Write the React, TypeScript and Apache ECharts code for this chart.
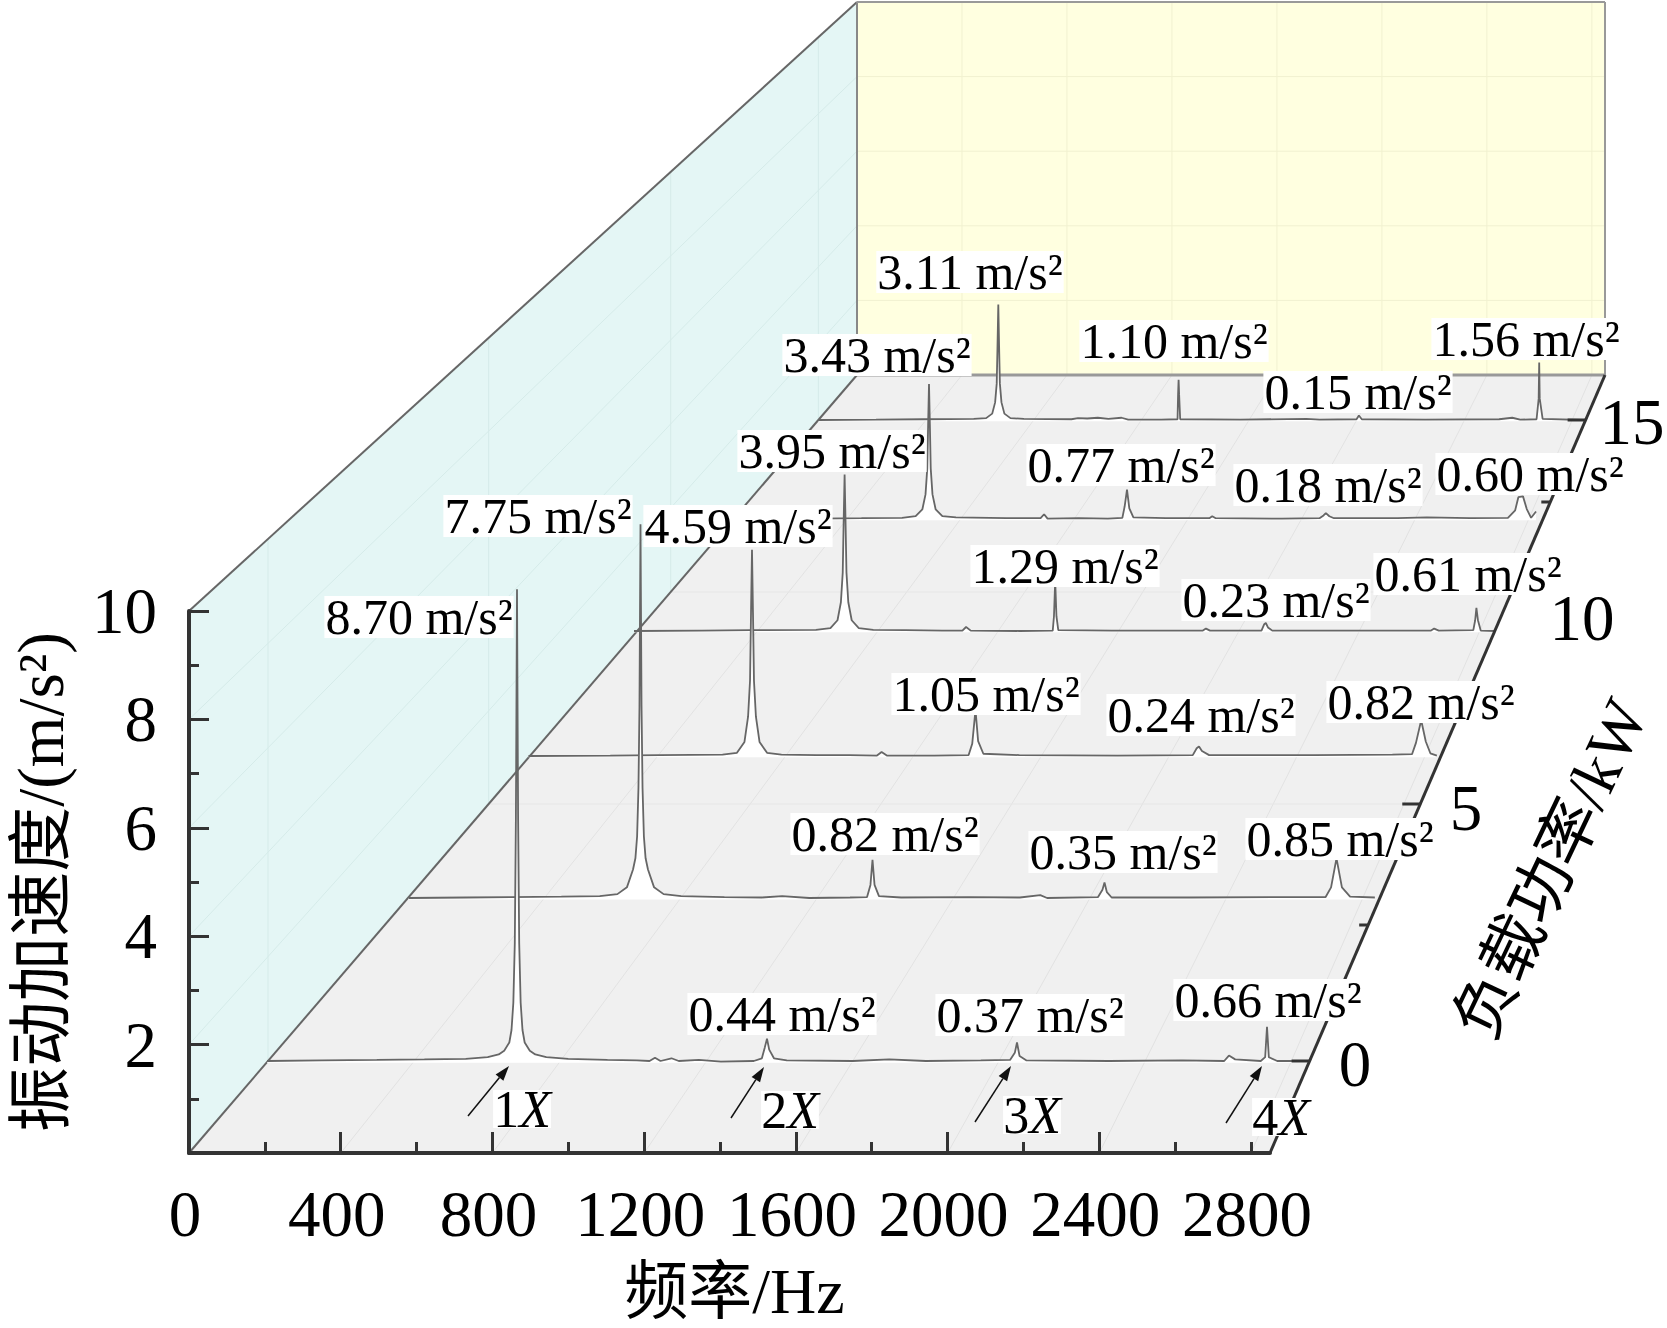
import React, { useEffect, useRef } from "react";
import * as echarts from "echarts";

const FONT = '"Liberation Serif", "Noto Sans CJK SC", serif';

// ---------- data ----------
const loads = [0, 3, 6, 9, 12, 15];
const harmonicLabels = ["1", "2", "3", "4"];
const freqTicks = [0, 400, 800, 1200, 1600, 2000, 2400, 2800];
const loadTicks = ["0", "5", "10", "15"];

const peaks0 = [8.7, 0.44, 0.37, 0.66];
const peaks3 = [7.75, 0.82, 0.35, 0.85];
const peaks6 = [4.59, 1.05, 0.24, 0.82];
const peaks9 = [3.95, 1.29, 0.23, 0.61];
const peaks12 = [3.43, 0.77, 0.18, 0.6];
const peaks15 = [3.11, 1.1, 0.15, 1.56];

const spectrum0 = [[0,.03],[150,.04],[300,.05],[430,.06],[543,.07],[603,.1],[633,.15],[648,.22],[662,.37],[668,.6],[673,1.1],[677,2.2],[680,4.5],[683,8.7],[686,4.5],[689,2.2],[693,1.1],[698,.6],[704,.37],[718,.22],[733,.15],[763,.1],[823,.07],[930,.05],[1010,.04],[1045,.03],[1060,.09],[1075,.03],[1105,.08],[1125,.03],[1180,.05],[1240,.02],[1330,.03],[1352,.08],[1360,.28],[1366,.44],[1372,.24],[1385,.08],[1420,.04],[1600,.03],[1700,.06],[1800,.03],[1950,.04],[2030,.05],[2043,.18],[2049,.37],[2056,.12],[2075,.04],[2300,.03],[2500,.04],[2615,.03],[2628,.13],[2645,.06],[2715,.03],[2727,.1],[2732,.66],[2737,.1],[2760,.03],[2844,.03]];
const spectrum3 = [[0,.03],[170,.04],[300,.05],[450,.06],[563,.07],[615,.11],[643,.25],[661,.62],[668,.85],[673,1.3],[677,2.3],[680,4],[683,7.75],[686,4],[689,2.3],[693,1.3],[698,.85],[705,.62],[723,.25],[751,.11],[803,.07],[930,.05],[1040,.04],[1100,.07],[1180,.03],[1300,.04],[1350,.05],[1360,.3],[1366,.82],[1372,.3],[1385,.07],[1450,.04],[1650,.05],[1800,.04],[1860,.09],[1880,.03],[2030,.05],[2043,.2],[2049,.35],[2056,.15],[2070,.04],[2300,.04],[2550,.05],[2700,.05],[2716,.25],[2732,.85],[2748,.25],[2772,.06],[2845,.04]];
const spectrum6 = [[0,.03],[250,.04],[400,.05],[593,.06],[637,.1],[660,.34],[671,.9],[677,1.7],[680,3.2],[683,4.59],[686,3.2],[689,1.7],[695,.9],[706,.34],[729,.1],[773,.06],[880,.05],[980,.05],[1065,.04],[1079,.12],[1095,.04],[1240,.04],[1345,.05],[1356,.3],[1366,1.05],[1374,.36],[1390,.08],[1500,.05],[1800,.04],[2030,.05],[2042,.2],[2049,.24],[2058,.14],[2080,.05],[2400,.05],[2640,.06],[2700,.07],[2712,.32],[2728,.82],[2742,.35],[2756,.09],[2776,.04]];
const spectrum9 = [[0,.03],[220,.04],[380,.05],[590,.06],[637,.1],[660,.3],[671,.75],[677,1.5],[680,2.8],[683,3.95],[686,2.8],[689,1.5],[695,.75],[706,.3],[729,.1],[776,.06],[880,.05],[1000,.04],[1065,.04],[1077,.13],[1092,.04],[1250,.03],[1358,.04],[1362,.4],[1366,1.29],[1370,.4],[1376,.05],[1550,.04],[1845,.04],[1855,.09],[1868,.04],[2035,.04],[2044,.2],[2049,.23],[2056,.12],[2070,.04],[2400,.04],[2585,.04],[2595,.09],[2610,.04],[2722,.05],[2728,.3],[2732,.61],[2737,.3],[2746,.04],[2792,.03]];
const spectrum12 = [[0,.03],[300,.04],[450,.05],[590,.06],[637,.1],[660,.27],[671,.65],[677,1.3],[680,2.4],[683,3.43],[686,2.4],[689,1.3],[695,.65],[706,.27],[729,.1],[776,.07],[950,.05],[1068,.05],[1080,.15],[1092,.04],[1200,.05],[1300,.04],[1350,.06],[1358,.35],[1366,.77],[1374,.3],[1388,.07],[1500,.05],[1650,.05],[1660,.1],[1672,.05],[1900,.04],[2030,.05],[2044,.12],[2052,.18],[2064,.1],[2080,.05],[2300,.05],[2400,.07],[2550,.05],[2680,.06],[2705,.25],[2716,.58],[2732,.6],[2745,.28],[2760,.06],[2777,.22]];
const spectrum15 = [[0,.03],[220,.04],[400,.05],[590,.06],[637,.08],[660,.2],[671,.5],[677,1],[680,2],[683,3.11],[686,2],[689,1],[695,.5],[706,.2],[729,.08],[780,.06],[960,.05],[985,.08],[1020,.07],[1060,.09],[1100,.06],[1150,.09],[1175,.04],[1300,.04],[1362,.05],[1364,.7],[1366,1.1],[1368,.7],[1372,.05],[1600,.04],[1850,.06],[1900,.04],[2040,.05],[2049,.15],[2060,.05],[2300,.04],[2580,.05],[2630,.09],[2660,.04],[2722,.05],[2730,.6],[2732,1.56],[2734,.6],[2745,.06],[2898,.03]];

const spectra = [spectrum0, spectrum3, spectrum6, spectrum9, spectrum12, spectrum15];
const peakTables = [peaks0, peaks3, peaks6, peaks9, peaks12, peaks15];

// ---------- layout of the picture (pixels) ----------
const W = 1667, H = 1328;
const O = { x: 189, y: 1153 };      // front-left floor corner
const FR = { x: 1270, y: 1153 };    // front-right floor corner
const BL = { x: 857, y: 375 };      // back-left floor corner
const BR = { x: 1605, y: 375 };     // back-right floor corner
const TF = { x: 189, y: 611 };      // top of the front of the left wall
const TB = { x: 857, y: 2 };        // top of back wall
const TR = { x: 1605, y: 2 };

const rowBase = [1061, 898, 756, 631, 519, 420];
const rowLeft = [267, 408.5, 528.5, 634, 731, 818];
const rowPxPer683Hz = [250, 232, 223.5, 210.6, 198, 180.3];
const rowPxPerUnit = [54.4, 48.4, 45.2, 39.9, 39.7, 37.5];

const labelCenters = [
  [[419, 617], [782, 1014], [1030, 1015], [1268, 1000]],
  [[538, 516], [885, 834], [1123, 852], [1340, 839]],
  [[738, 526], [986, 694], [1201, 715], [1421, 702]],
  [[832, 451], [1065, 566], [1276, 600], [1468, 574]],
  [[877, 355], [1121, 465], [1328, 485], [1530, 474]],
  [[970, 272], [1174, 341], [1358, 392], [1526, 339]],
];
const harmonicCenters = [[522, 1109], [790, 1110], [1032, 1115], [1281, 1117]];
const arrows = [
  [468, 1116, 509, 1066],
  [731, 1118, 764, 1067],
  [975, 1122, 1011, 1066],
  [1226, 1123, 1262, 1066],
];
const loadTickY = [1061, 925, 804, 695, 592, 502, 420];
const loadLabelCenters = [[1355, 1064], [1466, 808], [1582, 618], [1632, 422]];

const floorLeftX = (y: number) => O.x + ((BL.x - O.x) * (O.y - y)) / (O.y - BL.y);
const floorRightX = (y: number) => FR.x + ((BR.x - FR.x) * (FR.y - y)) / (FR.y - BR.y);
const wallTopY = (x: number) => TF.y + ((TB.y - TF.y) * (x - TF.x)) / (TB.x - TF.x);

function line(x1: number, y1: number, x2: number, y2: number, stroke: string, lineWidth: number, z = 0) {
  return { type: "line", z, silent: true, shape: { x1, y1, x2, y2 }, style: { stroke, lineWidth } };
}

function buildGraphics() {
  const els: any[] = [];
  const axisDark = "#333333";
  els.push({ type: "polygon", z: 0, shape: { points: [[O.x, O.y], [BL.x, BL.y], [TB.x, TB.y], [TF.x, TF.y]] }, style: { fill: "#e4f6f5" } });
  els.push({ type: "polygon", z: 0, shape: { points: [[BL.x, BL.y], [BR.x, BR.y], [TR.x, TR.y], [TB.x, TB.y]] }, style: { fill: "#ffffe0" } });
  els.push({ type: "polygon", z: 0, shape: { points: [[O.x, O.y], [FR.x, FR.y], [BR.x, BR.y], [BL.x, BL.y]] }, style: { fill: "#f0f0f0" } });

  // faint grids
  freqTicks.concat([]).forEach((hz) => {
    const fx = O.x + (hz / 2850) * (FR.x - O.x);
    const bx = BL.x + (hz / 2850) * (BR.x - BL.x);
    els.push(line(fx, O.y, bx, BL.y, "#e2e2e2", 1));
    if (hz > 0) els.push(line(bx, BL.y, bx, TB.y, "#f1f1d0", 1));
  });
  [2, 4, 6, 8].forEach((v) => {
    const fy = O.y - (v / 10) * (O.y - TF.y);
    const by = BL.y - (v / 10) * (BL.y - TB.y);
    els.push(line(O.x, fy, BL.x, by, "#d5ebe9", 1));
    els.push(line(BL.x, by, BR.x, by, "#f1f1d0", 1));
  });
  [loadTickY[0], loadTickY[2], loadTickY[4], loadTickY[6]].forEach((y) => {
    const xl = floorLeftX(y);
    els.push(line(xl, y, floorRightX(y), y, "#e6e6e6", 1));
    els.push(line(xl, y, xl, wallTopY(xl), "#d5ebe9", 1));
  });

  // wall edges
  els.push(line(O.x, O.y, BL.x, BL.y, "#666666", 2, 1));
  els.push(line(TF.x, TF.y, TB.x, TB.y, "#666666", 2, 1));
  els.push(line(BL.x, BL.y, BL.x, TB.y, "#888888", 2, 1));
  els.push(line(TB.x, TB.y, TR.x, TR.y, "#999999", 2, 1));
  els.push(line(TR.x, TR.y, BR.x, BR.y, "#999999", 2, 1));
  els.push(line(BL.x, BL.y, BR.x, BR.y, "#999999", 3, 1));

  // right-hand depth axis
  els.push(line(FR.x, FR.y, BR.x, BR.y, axisDark, 3, 40));
  loadTickY.forEach((y, i) => {
    const x = floorRightX(y);
    els.push(line(x - (i % 2 === 0 ? 18 : 9), y, x, y, axisDark, 3, 40));
  });
  loadTicks.forEach((t, i) => {
    els.push({
      type: "text", z: 60, x: loadLabelCenters[i][0], y: loadLabelCenters[i][1],
      style: { text: t, fill: "#000", fontFamily: FONT, fontSize: 65, align: "center", verticalAlign: "middle" },
    });
  });
  els.push({
    type: "text", z: 60, x: 1551, y: 869, rotation: 1.126,
    style: { text: "负载功率/kW", fill: "#000", fontFamily: FONT, fontSize: 64, align: "center", verticalAlign: "middle" },
  });

  // peak value labels
  peakTables.forEach((vals, r) => {
    vals.forEach((v, i) => {
      els.push({
        type: "text", z: 50, x: labelCenters[r][i][0], y: labelCenters[r][i][1],
        style: {
          text: `${v.toFixed(2)} m/s²`, fill: "#000", fontFamily: FONT, fontSize: 50,
          align: "center", verticalAlign: "middle", lineHeight: 42, backgroundColor: "#fff", padding: [0, 1],
        },
      });
    });
  });

  // harmonic arrows and labels
  arrows.forEach(([x1, y1, x2, y2]) => {
    const dx = x2 - x1, dy = y2 - y1, len = Math.hypot(dx, dy);
    const ux = dx / len, uy = dy / len;
    const bx = x2 - ux * 15, by = y2 - uy * 15;
    els.push(line(x1, y1, bx, by, "#111", 1.5, 45));
    els.push({
      type: "polygon", z: 45,
      shape: { points: [[x2, y2], [bx - uy * 5, by + ux * 5], [bx + uy * 5, by - ux * 5]] },
      style: { fill: "#111" },
    });
  });
  harmonicLabels.forEach((n, i) => {
    els.push({
      type: "text", z: 50, x: harmonicCenters[i][0], y: harmonicCenters[i][1],
      style: {
        text: `{a|${n}}{b|X}`, align: "center", verticalAlign: "middle", backgroundColor: "#fff",
        rich: {
          a: { fontFamily: FONT, fontSize: 52, fill: "#000", lineHeight: 38 },
          b: { fontFamily: FONT, fontSize: 52, fontStyle: "italic", fill: "#000", lineHeight: 38 },
        },
      },
    });
  });
  return els;
}

function buildOption() {
  const grid: any[] = [{ left: O.x, top: TF.y, width: FR.x - O.x, height: O.y - TF.y, outerBoundsMode: "none", containLabel: false }];
  const xAxis: any[] = [
    {
      type: "value", gridIndex: 0, min: 0, max: 2850, position: "bottom", z: 40,
      name: "频率/Hz", nameLocation: "middle", nameGap: 106,
      nameTextStyle: { fontFamily: FONT, fontSize: 64, color: "#000", padding: [0, 0, 0, 10] },
      axisLine: { show: true, onZero: false, lineStyle: { color: "#333", width: 4 } },
      axisTick: { show: true, inside: true, length: 21, lineStyle: { color: "#333", width: 3 }, customValues: [0, 400, 800, 1200, 1600, 2000, 2400] },
      axisLabel: {
        show: true, margin: 28, fontFamily: FONT, fontSize: 65, color: "#000", padding: [0, 8, 0, 0],
        customValues: freqTicks, formatter: (v: number) => String(v),
      },
      splitLine: { show: false },
    },
    {
      type: "value", gridIndex: 0, min: 0, max: 2850, position: "bottom", z: 40,
      axisLine: { show: false, onZero: false },
      axisTick: { show: true, inside: true, length: 11, lineStyle: { color: "#333", width: 3 }, customValues: [200, 600, 1000, 1400, 1800, 2200, 2600, 2800] },
      axisLabel: { show: false },
      splitLine: { show: false },
    },
  ];
  const yAxis: any[] = [
    {
      type: "value", gridIndex: 0, min: 0, max: 10, interval: 2, position: "left", z: 40,
      name: "振动加速度/(m/s²)", nameLocation: "middle", nameRotate: 90, nameGap: 116,
      nameTextStyle: { fontFamily: FONT, fontSize: 65, color: "#000" },
      axisLine: { show: true, onZero: false, lineStyle: { color: "#333", width: 4 } },
      axisTick: { show: true, inside: true, length: 20, lineStyle: { color: "#333", width: 3 } },
      minorTick: { show: true, splitNumber: 2, length: 10, lineStyle: { color: "#333", width: 3 } },
      axisLabel: { show: true, margin: 32, fontFamily: FONT, fontSize: 65, color: "#000", showMinLabel: false },
      splitLine: { show: false },
    },
  ];
  const series: any[] = [];
  // back rows are drawn first, front rows over them
  for (let r = loads.length - 1; r >= 0; r--) {
    const pxPerHz = rowPxPer683Hz[r] / 683;
    const unit = rowPxPerUnit[r];
    const bottomY = rowBase[r] + 0.03 * unit;
    const idx = grid.length;
    grid.push({ left: rowLeft[r], width: pxPerHz * 3000, top: bottomY - unit * 10, height: unit * 10, outerBoundsMode: "none" });
    xAxis.push({ type: "value", gridIndex: idx, min: 0, max: 3000, show: false });
    yAxis.push({ type: "value", gridIndex: idx, min: 0, max: 10, show: false });
    series.push({
      type: "line", name: `${loads[r]} kW`, xAxisIndex: idx + 1, yAxisIndex: idx,
      data: spectra[r], showSymbol: false, smooth: false, z: 10 + (loads.length - r),
      lineStyle: { color: "#666666", width: 1.8 },
      areaStyle: { color: "#ffffff", opacity: 1, origin: "start" },
      clip: false, silent: true,
    });
  }
  return {
    animation: false,
    backgroundColor: "#ffffff",
    textStyle: { fontFamily: FONT },
    grid, xAxis, yAxis, series,
    graphic: { elements: buildGraphics() },
  };
}

export default function App() {
  const ref = useRef<HTMLDivElement>(null);
  useEffect(() => {
    if (!ref.current) return;
    const chart = echarts.init(ref.current, undefined, { renderer: "svg" });
    chart.setOption(buildOption() as any);
    return () => chart.dispose();
  }, []);
  return <div ref={ref} style={{ position: "absolute", left: 0, top: 0, width: W, height: H }} />;
}
